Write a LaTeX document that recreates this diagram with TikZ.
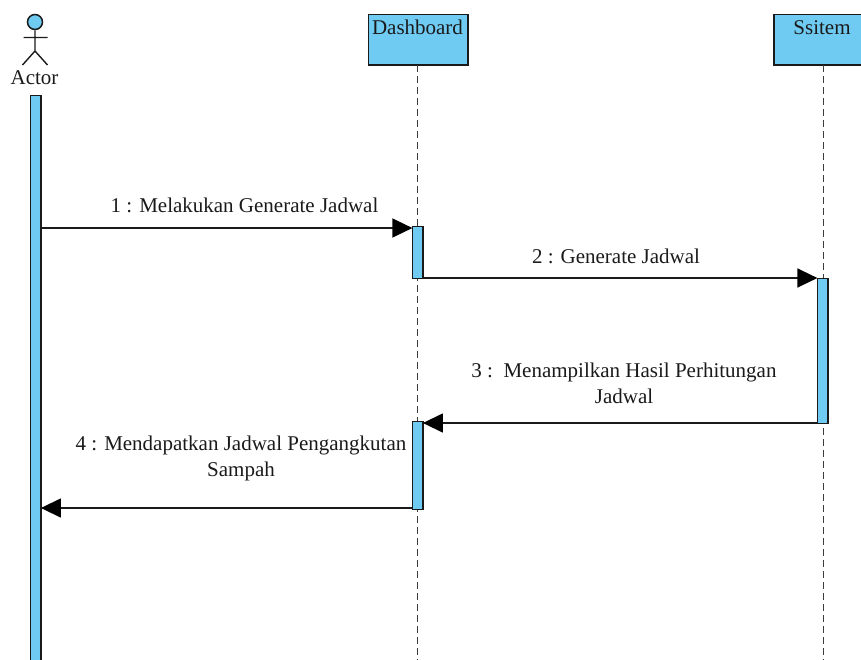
\documentclass[tikz,border=0pt]{standalone}
\usepackage{fontspec}
\setmainfont{Liberation Serif}
\usetikzlibrary{arrows.meta}
\definecolor{fillb}{HTML}{6FCBF2}
\definecolor{ink}{HTML}{1A1A1A}
\tikzset{x=1pt,y=-1pt,
 lifebox/.style={draw=ink,fill=fillb,line width=1.5pt,minimum width=99.5pt,minimum height=50.5pt,inner sep=0pt,outer sep=0pt},
 act/.style={draw=ink,fill=fillb,line width=1.5pt,inner sep=0pt,outer sep=0pt,minimum width=10.5pt},
 life/.style={draw=ink!85,dash pattern=on 7pt off 4pt,line width=1.1pt},
 msg/.style={draw=ink,line width=1.4pt,-{Triangle[length=20pt,width=19pt,color=black,fill=black]}},
 lab/.style={font=\fontsize{21}{26}\selectfont,text=ink,align=center,inner sep=0pt}}
\begin{document}
\begin{tikzpicture}
\useasboundingbox (0,0) rectangle (861,659);
\clip (0,0) rectangle (861,659);
\node[lifebox,anchor=north west] (dash) at (368.4,14.4) {};
\node[lab] (dashL) at (417.5,27.5) {Dashboard};
\node[lifebox,anchor=north west] (sys) at (774,14.4) {};
\node[lab] (sysL) at (822,27.5) {Ssitem};
\coordinate (dashEnd) at (417.8,659);
\coordinate (sysEnd) at (823.8,659);
\draw[life] (dash.south -| dashEnd) -- (dashEnd);
\draw[life] (sys.south -| sysEnd) -- (sysEnd);
% actor
\node[circle,draw=ink,fill=fillb,line width=1.5pt,minimum size=15pt,inner sep=0pt] (head) at (35,22) {};
\coordinate (hip) at (35,51);
\coordinate (armL) at (23.5,37.5);
\coordinate (armR) at (47.5,37.5);
\coordinate (legL) at (22.5,65);
\coordinate (legR) at (47.5,65);
\draw[ink,line width=1.4pt] (head) -- (hip) (armL) -- (armR) (legL) -- (hip) -- (legR);
\node[lab] (actor) at (34.5,78) {Actor};
% activations
\node[act,anchor=north west,minimum height=575pt] (a0) at (30.4,95.4) {};
\node[act,anchor=north west,minimum height=52pt] (a1) at (412.4,226.4) {};
\node[act,anchor=north west,minimum height=145pt] (a2) at (817.4,278.4) {};
\node[act,anchor=north west,minimum height=88pt] (a3) at (412.4,421.4) {};
% messages
\draw[msg] (a0.east |- 0,228) -- (a1.west |- 0,228);
\draw[msg] (a1.east |- 0,278) -- (a2.west |- 0,278);
\draw[msg] (a2.west |- 0,423) -- (a3.east |- 0,423);
\draw[msg] (a3.west |- 0,508) -- (a0.east |- 0,508);
\node[lab] (m1) at (244.5,205.5) {1 : Melakukan Generate Jadwal};
\node[lab] (m2) at (616,256.5) {2 : Generate Jadwal};
\node[lab,anchor=north] (m3) at (624,363) {3 :\ \ Menampilkan Hasil Perhitungan\\Jadwal};
\node[lab,anchor=north] (m4) at (241,436) {4 : Mendapatkan Jadwal Pengangkutan\\Sampah};
\end{tikzpicture}
\end{document}
